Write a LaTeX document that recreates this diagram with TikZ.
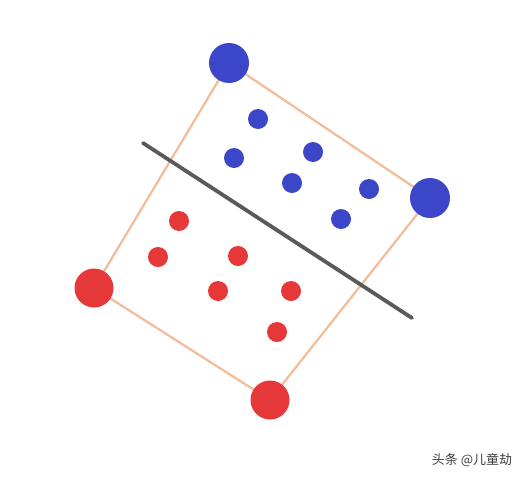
\documentclass[tikz,border=0pt]{standalone}
\usepackage{fontspec}
\newfontfamily\cjk{Noto Sans CJK SC}
\definecolor{dotblue}{HTML}{3C46C8}
\definecolor{dotred}{HTML}{E63838}
\definecolor{edgeorange}{HTML}{F2B48C}
\definecolor{sepgray}{HTML}{5A5A5A}
\usetikzlibrary{shapes,arrows}
\tikzstyle{bigblue} = [circle, fill=dotblue, inner sep=0pt, minimum size=40pt]
\tikzstyle{bigred} = [circle, fill=dotred, inner sep=0pt, minimum size=39pt]
\tikzstyle{blue dot} = [circle, fill=dotblue, inner sep=0pt, minimum size=20pt]
\tikzstyle{red dot} = [circle, fill=dotred, inner sep=0pt, minimum size=20pt]
\tikzstyle{edge} = [draw=edgeorange, line width=2.2pt, opacity=0.9]
\tikzstyle{separator} = [draw=sepgray, line width=3.8pt, line cap=round]

\begin{document}
\begin{tikzpicture}[x=1pt, y=-1pt]
\useasboundingbox (0,0) rectangle (526,479);
\fill[white] (0,0) rectangle (526,479);
 \coordinate (top) at (229,63);
 \coordinate (right) at (430,198);
\coordinate (bottom) at (270,400);
\coordinate (left) at (94,288);
\coordinate (S1) at (143,143);
\coordinate (S2) at (412,318);

\draw[edge] (top) -- (right) -- (bottom) -- (left) -- cycle;
\draw[separator] (S1) -- (S2);

\node[bigblue, name=v1] at (top) {};
\node[bigblue, name=v2] at (right) {};
\node[bigred, name=v3] at (bottom) {};
\node[bigred, name=v4] at (left) {};

\node[blue dot, name=b1] at (258,119) {};
\node[blue dot, name=b2] at (234,158) {};
\node[blue dot, name=b3] at (313,152) {};
\node[blue dot, name=b4] at (292,183) {};
\node[blue dot, name=b5] at (369,189) {};
\node[blue dot, name=b6] at (341,219) {};

\node[red dot, name=r1] at (179,221) {};
\node[red dot, name=r2] at (158,257) {};
\node[red dot, name=r3] at (238,256) {};
\node[red dot, name=r4] at (218,291) {};
\node[red dot, name=r5] at (291,291) {};
\node[red dot, name=r6] at (277,332) {};

\node[name=mark, text=black!75, font=\cjk\fontsize{13}{15}\selectfont] at (472,460) {头条 @儿童劫};

\end{tikzpicture}
\end{document}
